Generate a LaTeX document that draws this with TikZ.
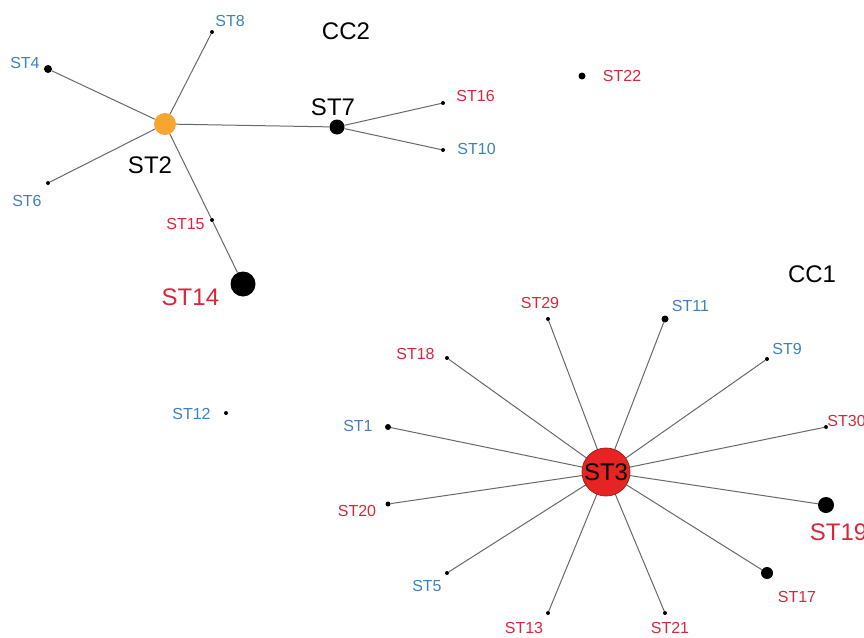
\documentclass[tikz,border=0pt]{standalone}
\usepackage{fontspec}
\setmainfont{Liberation Sans}
\usetikzlibrary{positioning}
\definecolor{stred}{RGB}{218,38,58}
\definecolor{stblue}{RGB}{62,128,192}
\definecolor{storange}{RGB}{246,166,48}
\definecolor{hubred}{RGB}{230,36,36}
\definecolor{edgegray}{RGB}{105,105,105}

\begin{document}
\begin{tikzpicture}[
    x=1pt, y=-1pt,
    dot/.style     = {circle, fill=black, inner sep=0pt, minimum size=#1},
    dot/.default   = 4pt,
    lbl/.style     = {inner sep=1pt, font=\fontsize{16}{16}\selectfont},
    lblred/.style  = {lbl, text=stred},
    lblblue/.style = {lbl, text=stblue},
    biglbl/.style  = {inner sep=1pt, font=\fontsize{24}{24}\selectfont},
    edge/.style    = {draw=edgegray, line width=1pt},
]
\useasboundingbox (0,0) rectangle (864,637);

% CC2 (top left)
\node[circle, fill=storange, inner sep=0pt, minimum size=22pt] (st2) at (165,124) {};
\node[biglbl, below=20pt of st2, xshift=-15pt] (st2l) {ST2};
\node[dot=8pt] (st4)  at (48,69)  {};
\node[dot]     (st8)  at (212,32) {};
\node[dot]     (st6)  at (48,183) {};
\node[dot]     (st15) at (212,220) {};
\node[dot=25pt] (st14) at (243,284) {};
\node[lblblue, left=3pt of st4, yshift=6.5pt]  (st4l)  {ST4};
\node[lblblue, right=0pt of st8, yshift=11pt]  (st8l)  {ST8};
\node[lblblue, left=3pt of st6, yshift=-18pt]  (st6l)  {ST6};
\node[lblred, left=4pt of st15, yshift=-3.5pt] (st15l) {ST15};
\node[biglbl, text=stred, left=10pt of st14, yshift=-13pt] (st14l) {ST14};

\node[dot=15pt] (st7)  at (337,127) {};
\node[dot]      (st16) at (443,103) {};
\node[dot]      (st10) at (443,150) {};
\node[biglbl, above=2pt of st7, xshift=-4pt]    (st7l)  {ST7};
\node[lblred, right=10pt of st16, yshift=7pt]   (st16l) {ST16};
\node[lblblue, right=11pt of st10, yshift=1pt]  (st10l) {ST10};
\node[biglbl] (cc2) at (346,31) {CC2};

\draw[edge] (st2) -- (st4);
\draw[edge] (st2) -- (st8);
\draw[edge] (st2) -- (st6);
\draw[edge] (st2) -- (st15);
\draw[edge] (st15) -- (st14);
\draw[edge] (st2) -- (st7);
\draw[edge] (st7) -- (st16);
\draw[edge] (st7) -- (st10);

% singletons
\node[dot=7pt] (st22) at (582,76) {};
\node[lblred, right=16pt of st22] (st22l) {ST22};
\node[dot] (st12) at (226,413) {};
\node[lblblue, left=12pt of st12, yshift=-1pt] (st12l) {ST12};

% CC1 (bottom right)
\node[biglbl] (cc1) at (812,274) {CC1};
\node[dot]      (st29) at (548,319) {};
\node[dot=7pt]  (st11) at (665,319) {};
\node[dot]      (st9)  at (767,359) {};
\node[dot]      (st30) at (826,427) {};
\node[dot=16pt] (st19) at (826,505) {};
\node[dot=12pt] (st17) at (767,573) {};
\node[dot]      (st21) at (665,613) {};
\node[dot]      (st13) at (548,613) {};
\node[dot]      (st5)  at (447,573) {};
\node[dot=5pt]  (st20) at (388,504) {};
\node[dot=6pt]  (st1)  at (388,427) {};
\node[dot]      (st18) at (447,358) {};

\node[lblred, above=7pt of st29, xshift=-8pt]  (st29l) {ST29};
\node[lblblue, right=2pt of st11, yshift=13pt] (st11l) {ST11};
\node[lblblue, right=2pt of st9, yshift=10pt]  (st9l)  {ST9};
\node[lblred, right=-2pt of st30, yshift=6pt]  (st30l) {ST30};
\node[biglbl, text=stred, below=9pt of st19, xshift=12.5pt] (st19l) {ST19};
\node[lblred, below=11pt of st17, xshift=30pt] (st17l) {ST17};
\node[lblred, below=6pt of st21, xshift=5pt]   (st21l) {ST21};
\node[lblred, below=6pt of st13, xshift=-24pt] (st13l) {ST13};
\node[lblblue, left=2pt of st5, yshift=-13pt]  (st5l)  {ST5};
\node[lblred, left=8pt of st20, yshift=-7pt]   (st20l) {ST20};
\node[lblblue, left=11pt of st1, yshift=1pt]   (st1l)  {ST1};
\node[lblred, left=9pt of st18, yshift=4.5pt]  (st18l) {ST18};

\foreach \leaf in {st29,st11,st9,st30,st19,st17,st21,st13,st5,st20,st1,st18}
  \draw[edge] (606,472) -- (\leaf);

\node[circle, fill=hubred, draw=hubred!75!black, line width=0.8pt,
      inner sep=0pt, minimum size=48pt, font=\fontsize{24}{24}\selectfont] (st3) at (606,472) {ST3};

\end{tikzpicture}
\end{document}
